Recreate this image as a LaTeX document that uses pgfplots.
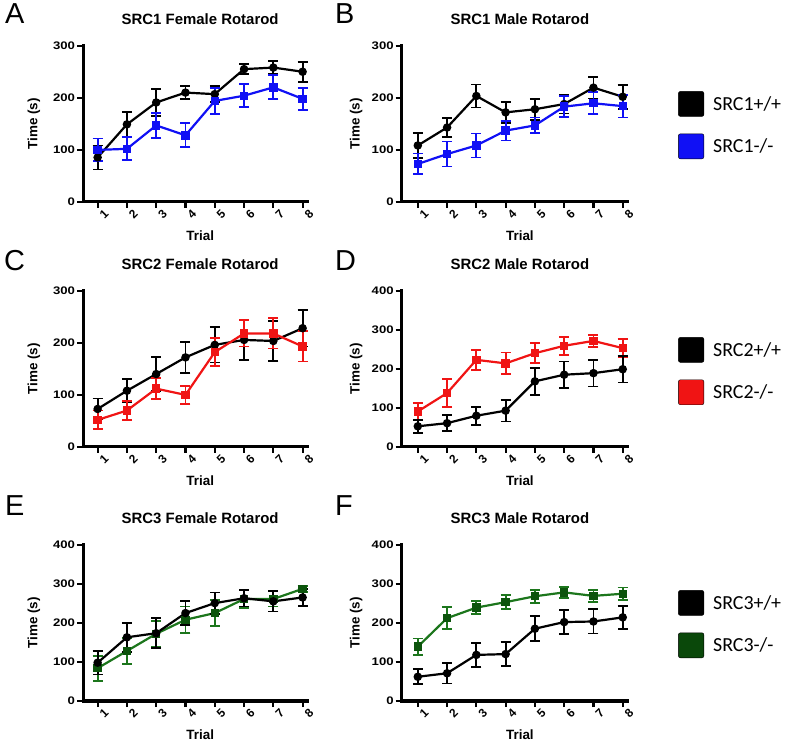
\documentclass[border=0pt]{standalone}
\usepackage{fontspec}
\setmainfont{Liberation Sans}
\newfontfamily\carlito{Carlito}
\usepackage{pgfplots}
\pgfplotsset{compat=1.18}
\definecolor{cblue}{RGB}{16,16,245}
\definecolor{cred}{RGB}{240,20,20}
\definecolor{cgreen}{RGB}{28,118,28}
\definecolor{cgreenmk}{RGB}{12,84,12}
\definecolor{cgreenbox}{RGB}{10,72,10}
\pgfplotsset{
  panel/.style={
    scale only axis, width=224bp, height=156.3bp, anchor=south west,
    axis lines*=left, axis line style={line width=3bp, line cap=rect},
    tick style={line width=2.2bp, black}, tick align=outside, major tick length=6bp,
    xtick={1,...,8}, ymin=0, xmin=0.5, xmax=8.15, minor tick num=0,
    /pgf/number format/assume math mode=true,
    xticklabel style={rotate=45, anchor=center, yshift=-9bp, font=\bfseries\fontsize{12}{12}\selectfont},
    yticklabel style={font=\bfseries\fontsize{11}{11}\selectfont, xscale=1.2, inner sep=1.5bp},
    xlabel={Trial}, ylabel={Time (s)},
    label style={font=\bfseries\fontsize{13.5}{14}\selectfont},
    xlabel style={at={(axis description cs:0.523,0)}, anchor=center, yshift=-34bp},
    ylabel style={at={(axis description cs:-0.219,0.5)}, anchor=center},
    title style={at={(axis description cs:0.523,1)}, anchor=center, yshift=21bp, font=\bfseries\fontsize{15}{15}\selectfont},
    clip=false,
    legend image code/.code={\fill[##1, rounded corners=2bp] (0bp,-12.5bp) rectangle (25.5bp,12.5bp);},
    legend cell align=left,
    legend style={draw=none, fill=none, anchor=north west, font=\carlito\fontsize{20}{20}\selectfont,
      row sep=17bp, column sep=9bp, inner sep=0pt, nodes={inner sep=0pt}},
  },
  right panel/.style={panel, width=226bp, xmin=0.45, xmax=8.17,
    ylabel style={at={(axis description cs:-0.202,0.5)}}},
  y300/.style={ymax=300, ytick={0,100,200,300}},
  y400/.style={ymax=400, ytick={0,100,200,300,400}},
  ser/.style={line width=2.2bp, mark size=3.1bp, color=#1,
    error bars/y dir=both, error bars/y explicit,
    error bars/error bar style={line width=1.8bp, color=#1},
    error bars/error mark options={rotate=90, mark size=5bp, line width=1.8bp, color=#1}},
  wt/.style={ser=black, mark=*, mark options={solid, fill=black}},
  ko/.style={ser=#1, mark=square*, mark options={solid, fill=#1}},
}
\begin{document}
\begin{tikzpicture}
\useasboundingbox (0,0) rectangle (792bp,742bp);
% ---------- A ----------
\begin{axis}[panel, y300, at={(83bp,540bp)}, title={SRC1 Female Rotarod}]
\addplot[wt] table[x index=0, y index=1, y error index=2] {
1 85.5 23
2 149 24
3 191 26
4 210 12
5 207 15
6 255 10
7 258 12
8 250 19
};
\addplot[ko=cblue] table[x index=0, y index=1, y error index=2] {
1 100 22
2 102 22
3 147 24
4 128 23
5 194 25
6 204 22
7 220 23
8 198 21
};
\end{axis}
% ---------- B ----------
\begin{axis}[right panel, y300, at={(401.7bp,540bp)}, title={SRC1 Male Rotarod},
  legend style={at={(axis description cs:1.2226,0.710)}}]
\addlegendimage{fill=black}
\addlegendimage{fill=cblue}
\addplot[wt] table[x index=0, y index=1, y error index=2] {
1 108.5 24
2 143 18
3 203.5 22
4 172 20
5 178 20
6 188 18
7 219.5 21
8 202 23
};
\addplot[ko=cblue] table[x index=0, y index=1, y error index=2] {
1 73 20
2 92 24
3 108.5 23
4 137 19
5 147 15
6 183 20
7 189.5 21
8 184 22
};
\legend{SRC1+/+,SRC1-/-}
\end{axis}
% ---------- C ----------
\begin{axis}[panel, y300, at={(83bp,295bp)}, title={SRC2 Female Rotarod}]
\addplot[wt] table[x index=0, y index=1, y error index=2] {
1 73 20
2 108 22
3 140 32
4 172 30
5 196 34
6 205.5 38
7 203.5 38
8 228 35
};
\addplot[ko=cred] table[x index=0, y index=1, y error index=2] {
1 52 18
2 70 18
3 112 20
4 100 17
5 182 27
6 218 25
7 218 29
8 193 29
};
\end{axis}
% ---------- D ----------
\begin{axis}[right panel, y400, at={(401.7bp,295bp)}, title={SRC2 Male Rotarod},
  legend style={at={(axis description cs:1.2226,0.704)}}]
\addlegendimage{fill=black}
\addlegendimage{fill=cred}
\addplot[ko=cred] table[x index=0, y index=1, y error index=2] {
1 91 21
2 138 35
3 223 26
4 214 28
5 240 26
6 259 23
7 271.5 16
8 253 24
};
\addplot[wt] table[x index=0, y index=1, y error index=2] {
1 53 17
2 61 21
3 80 23
4 93 28
5 168 35
6 185 34
7 189 34
8 199 34
};
\legend{SRC2+/+,SRC2-/-}
\end{axis}
% ---------- E ----------
\begin{axis}[panel, y400, at={(83bp,41bp)}, title={SRC3 Female Rotarod}]
\addplot[ko=cgreen, mark options={fill=cgreenmk, draw=cgreenmk}] table[x index=0, y index=1, y error index=2] {
1 84 32
2 128 34
3 172 33
4 208 34
5 225 34
6 261 22
7 261 19
8 287 8
};
\addplot[wt] table[x index=0, y index=1, y error index=2] {
1 98 30
2 163 37
3 173.5 38
4 225 30
5 250.5 27
6 263 21
7 255 26
8 265 21
};
\end{axis}
% ---------- F ----------
\begin{axis}[right panel, y400, at={(401.7bp,41bp)}, title={SRC3 Male Rotarod},
  legend style={at={(axis description cs:1.2226,0.710)}}]
\addlegendimage{fill=black}
\addlegendimage{fill=cgreenbox}
\addplot[ko=cgreen, mark options={fill=cgreenmk, draw=cgreenmk}] table[x index=0, y index=1, y error index=2] {
1 139 21
2 212 28
3 239 17
4 253 18
5 268 17
6 278 14
7 269 15
8 274.5 16
};
\addplot[wt] table[x index=0, y index=1, y error index=2] {
1 62 19
2 71 26
3 118 30
4 120 30
5 185 32
6 202 31
7 203.5 31
8 214 30
};
\legend{SRC3+/+,SRC3-/-}
\end{axis}
% panel letters
\begin{scope}[every node/.style={anchor=north west, inner sep=0pt, font=\fontsize{29}{29}\selectfont}]
\node at (5bp,739bp) {A};
\node at (335bp,739bp) {B};
\node at (4bp,492bp) {C};
\node at (335bp,492bp) {D};
\node at (5bp,247bp) {E};
\node at (335bp,247bp) {F};
\end{scope}
\end{tikzpicture}
\end{document}
